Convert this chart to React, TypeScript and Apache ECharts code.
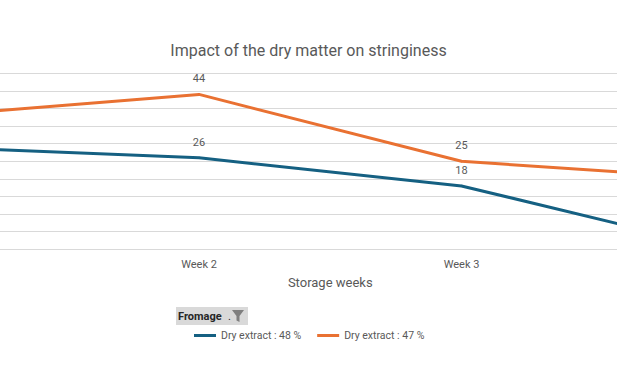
import React, { useEffect, useRef } from "react";
import * as echarts from "echarts";

const categories = ["Week 1", "Week 2", "Week 3", "Week 4"];
const seriesNames = ["Dry extract : 48 %", "Dry extract : 47 %"];
const dry48 = [29, 26, 18, 0];
const dry47 = [38, 44, 25, 20];
const chartTitle = "Impact of the dry matter on stringiness";
const xAxisTitle = "Storage weeks";
const filterField = "Fromage";
// only the middle categories fall inside the cropped view of the original chart
const visibleIdx = [1, 2];

const FONT = "Roboto, 'Noto Sans', sans-serif";
const GREY = "#595959";

export default function App() {
  const ref = useRef<HTMLDivElement>(null);
  useEffect(() => {
    if (!ref.current) return;
    const chart = echarts.init(ref.current, null, { renderer: "svg" });
    const labelCfg = {
      show: true,
      position: "top",
      distance: 9,
      color: GREY,
      fontSize: 11,
      fontFamily: FONT,
    };
    const toData = (arr: number[]) =>
      arr.map((v, i) =>
        visibleIdx.includes(i) ? { value: v } : { value: v, label: { show: false } }
      );
    chart.setOption({
      animation: false,
      backgroundColor: "#ffffff",
      textStyle: { fontFamily: FONT },
      title: {
        text: chartTitle,
        left: "center",
        top: 37,
        textStyle: { fontSize: 16, fontWeight: "normal", color: GREY, fontFamily: FONT },
      },
      grid: {
        left: -63.5,
        width: 787.5,
        top: 73.3,
        height: 176,
        containLabel: false,
        outerBoundsMode: "none",
      },
      xAxis: {
        type: "category",
        data: categories,
        boundaryGap: false,
        axisLine: { lineStyle: { color: "#d9d9d9", width: 1 } },
        axisTick: { show: false },
        axisLabel: {
          color: GREY,
          fontSize: 11,
          margin: 10,
          fontFamily: FONT,
          interval: (idx: number) => visibleIdx.includes(idx),
        },
        name: xAxisTitle,
        nameLocation: "middle",
        nameGap: 27,
        nameTextStyle: { color: GREY, fontSize: 13, fontFamily: FONT },
      },
      yAxis: {
        type: "value",
        min: 0,
        max: 50,
        interval: 5,
        axisLabel: { show: false },
        axisLine: { show: false },
        axisTick: { show: false },
        splitLine: { lineStyle: { color: "#d9d9d9", width: 1 } },
      },
      legend: {
        left: 194,
        top: 330,
        padding: 0,
        itemWidth: 22,
        itemHeight: 3,
        itemGap: 16,
        icon: "rect",
        textStyle: { color: GREY, fontSize: 10.5, fontFamily: FONT },
        data: seriesNames,
      },
      series: [
        {
          name: seriesNames[0],
          type: "line",
          data: toData(dry48),
          symbol: "circle",
          symbolSize: 2,
          color: "#156082",
          lineStyle: { width: 3, color: "#156082" },
          itemStyle: { color: "#156082" },
          label: labelCfg,
        },
        {
          name: seriesNames[1],
          type: "line",
          data: toData(dry47),
          symbol: "circle",
          symbolSize: 2,
          color: "#E97132",
          lineStyle: { width: 3, color: "#E97132" },
          itemStyle: { color: "#E97132" },
          label: labelCfg,
        },
      ],
      graphic: [
        {
          type: "rect",
          shape: { x: 176, y: 307, width: 72, height: 18 },
          style: { fill: "#d9d9d9" },
        },
        {
          type: "text",
          x: 178,
          y: 316,
          style: {
            text: filterField,
            fontSize: 11,
            fontWeight: "bold",
            fill: "#262626",
            fontFamily: FONT,
            verticalAlign: "middle",
          },
        },
        {
          type: "text",
          x: 228,
          y: 316,
          style: { text: ".", fontSize: 11, fill: "#262626", fontFamily: FONT, verticalAlign: "middle" },
        },
        {
          type: "polygon",
          shape: {
            points: [
              [232, 310],
              [244, 310],
              [239.5, 316],
              [239.5, 322],
              [236.5, 320.5],
              [236.5, 316],
            ],
          },
          style: { fill: "#7f7f7f" },
        },
      ],
    });
    return () => chart.dispose();
  }, []);
  return (
    <div
      ref={ref}
      style={{ position: "fixed", left: 0, top: 0, width: 617, height: 381 }}
    />
  );
}
